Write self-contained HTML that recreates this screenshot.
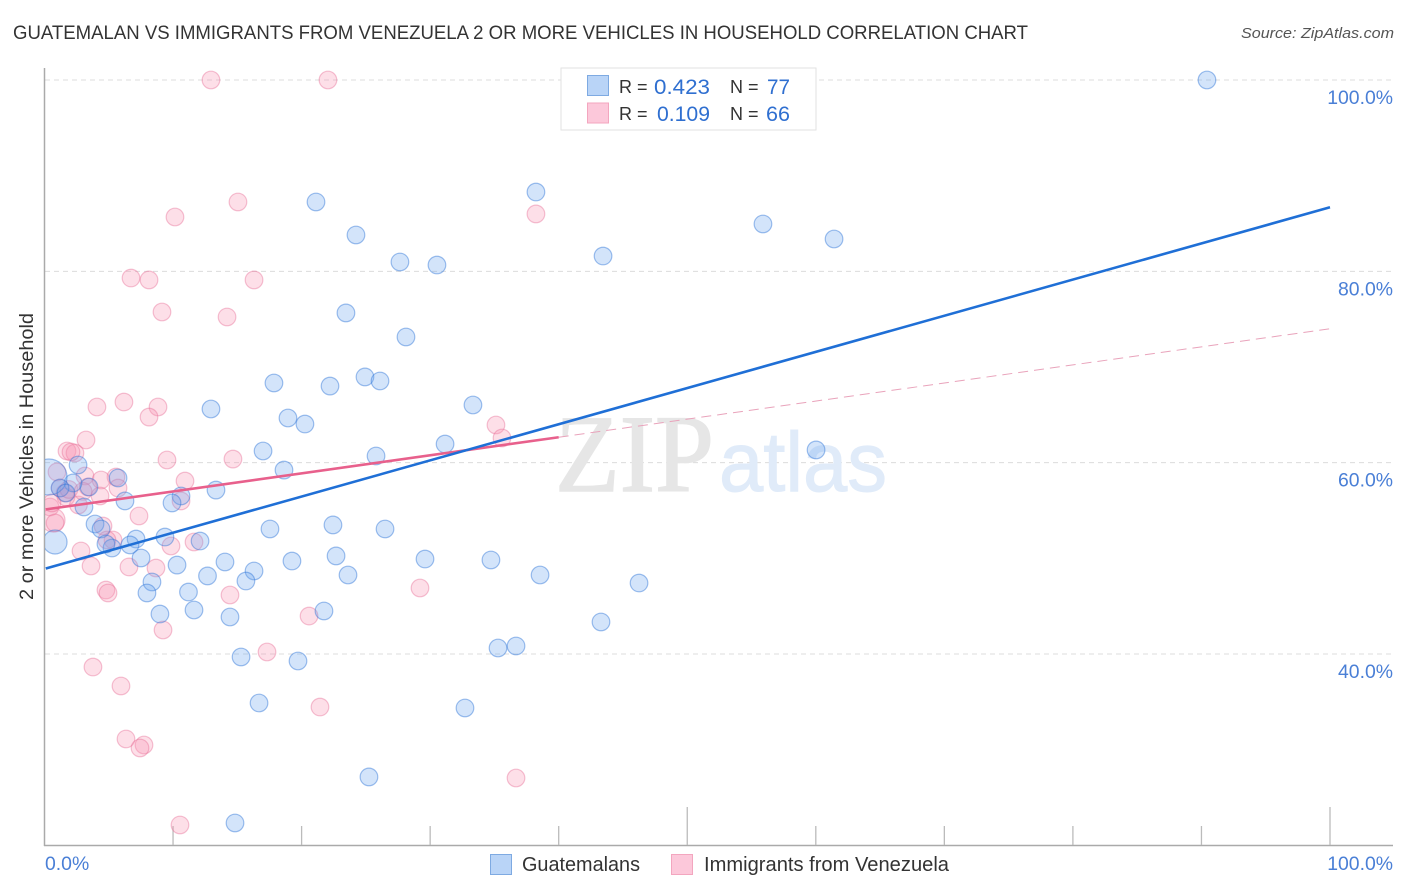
<!DOCTYPE html>
<html lang="en">
<head>
<meta charset="utf-8">
<title>Guatemalan vs Immigrants from Venezuela correlation chart</title>
<style>
html,body{margin:0;padding:0;background:#fff;}
body{width:1406px;height:892px;overflow:hidden;}
svg{display:block;font-family:"Liberation Sans",sans-serif;}
</style>
</head>
<body>
<svg id="chart" xmlns="http://www.w3.org/2000/svg" width="1406" height="892" viewBox="0 0 1406 892">
  <text x="13" y="39" font-size="19" fill="#333" textLength="1015" lengthAdjust="spacingAndGlyphs">GUATEMALAN VS IMMIGRANTS FROM VENEZUELA 2 OR MORE VEHICLES IN HOUSEHOLD CORRELATION CHART</text>
  <text x="1241" y="38" font-size="15" font-style="italic" fill="#555" textLength="153" lengthAdjust="spacingAndGlyphs">Source: ZipAtlas.com</text>
  <g id="grid"></g>
  <g>
    <text x="555" y="491" font-family="'Liberation Serif',serif" font-size="110" fill="#e6e6e6" stroke="#e6e6e6" stroke-width="1.5" textLength="159" lengthAdjust="spacingAndGlyphs">ZIP</text>
    <text x="719" y="491" font-size="84" fill="#e0ebf9" stroke="#e0ebf9" stroke-width="1" textLength="168" lengthAdjust="spacingAndGlyphs">atlas</text>
  </g>
  <g id="axes"></g>
  <g id="points-pink"></g>
  <g id="points-blue"></g>
  <g id="lines"></g>
  <text transform="translate(33,456.5) rotate(-90)" text-anchor="middle" font-size="19" fill="#333" textLength="287" lengthAdjust="spacingAndGlyphs">2 or more Vehicles in Household</text>
  <g>
    <rect x="561" y="68" width="255" height="62" fill="#fff" stroke="#e2e2e2" stroke-width="1"/>
    <rect x="587.5" y="75.5" width="21" height="20" fill="#b9d4f7" stroke="#7eaae2"/>
    <rect x="587.5" y="103" width="21" height="20" fill="#fcc8da" stroke="#f3a6bf"/>
    <text x="619" y="93" font-size="18" fill="#333">R =</text>
    <text x="654" y="94" font-size="21" fill="#2f6fd0" textLength="56" lengthAdjust="spacingAndGlyphs">0.423</text>
    <text x="730" y="93" font-size="18" fill="#333">N =</text>
    <text x="767" y="94" font-size="21" fill="#2f6fd0" textLength="23" lengthAdjust="spacingAndGlyphs">77</text>
    <text x="619" y="120" font-size="18" fill="#333">R =</text>
    <text x="657" y="121" font-size="21" fill="#2f6fd0" textLength="53" lengthAdjust="spacingAndGlyphs">0.109</text>
    <text x="730" y="120" font-size="18" fill="#333">N =</text>
    <text x="766" y="121" font-size="21" fill="#2f6fd0" textLength="24" lengthAdjust="spacingAndGlyphs">66</text>
  </g>
  <g>
    <rect x="490.5" y="854.5" width="21" height="20" fill="#b9d4f7" stroke="#7eaae2"/>
    <text x="522" y="871" font-size="20" fill="#333" textLength="118" lengthAdjust="spacingAndGlyphs">Guatemalans</text>
    <rect x="671.5" y="854.5" width="21" height="20" fill="#fcc8da" stroke="#f3a6bf"/>
    <text x="704" y="871" font-size="20" fill="#333" textLength="245" lengthAdjust="spacingAndGlyphs">Immigrants from Venezuela</text>
  </g>
</svg>
<script>
const guatemalanX = [90.43,38.23,21.12,55.89,24.23,61.42,43.45,27.65,30.53,23.45,28.12,24.93,26.1,17.85,22.21,33.33,12.95,18.94,20.26,31.16,17.0,25.79,60.02,18.63,2.61,13.34,10.62,9.92,6.26,3.07,5.72,3.46,2.22,1.21,0.35,0.82,3.93,4.4,17.54,22.44,26.49,9.37,7.12,12.1,6.65,5.25,4.78,22.68,29.6,34.73,19.25,7.51,10.31,14.04,16.3,12.68,23.61,38.55,15.67,8.36,46.25,7.97,11.2,21.74,11.63,8.98,14.43,43.29,35.28,36.68,15.29,19.72,16.69,32.71,25.24,14.82,1.67];
const guatemalanY = [100,88.29,87.25,84.95,83.8,83.38,81.6,80.98,80.66,75.65,73.14,68.96,68.54,68.33,68.01,66.03,65.61,64.67,64.04,61.95,61.22,60.7,61.33,59.23,59.76,57.14,56.52,55.79,56.0,55.37,58.4,57.46,57.88,57.35,58.5,51.71,53.59,53.07,53.07,53.49,53.07,52.23,52.02,51.81,51.4,51.08,51.5,50.25,49.93,49.83,49.72,50.04,49.3,49.62,48.68,48.16,48.26,48.26,47.63,47.53,47.42,46.38,46.48,44.5,44.6,44.18,43.87,43.35,40.63,40.84,39.69,39.27,34.88,34.36,27.15,22.34,56.83];
const venezuelaX = [12.95,22.05,38.23,10.15,15.05,6.73,8.13,16.3,9.14,14.2,6.18,4.08,8.83,8.13,35.12,35.59,3.23,1.75,2.37,2.06,14.66,9.53,0.97,5.56,3.15,10.93,4.4,5.72,3.38,4.32,1.59,1.21,1.67,10.62,0.43,0.66,0.82,0.58,2.64,7.35,4.55,5.33,4.86,9.84,11.63,2.84,3.62,6.57,8.67,4.78,4.94,14.43,29.21,9.22,20.58,17.31,3.77,5.95,21.43,6.34,7.74,7.43,36.68,10.54,1.9,3.0];
const venezuelaY = [100,100,86,85.68,87.25,79.3,79.1,79.1,75.75,75.23,66.34,65.82,65.82,64.77,63.94,62.58,62.37,61.22,61.01,61.12,60.38,60.28,59.03,58.5,58.61,58.08,58.19,57.35,57.46,56.52,56.83,57.35,56.41,56,55.37,54.01,53.7,55.79,55.58,54.43,53.38,51.92,51.92,51.29,51.71,50.77,49.2,49.1,48.99,46.69,46.38,46.17,46.9,42.51,43.97,40.21,38.64,36.66,34.46,31.12,30.49,30.18,27.04,22.13,57.2,57.0];
const guatemalanTrend = [48.9, 86.7];
const venezuelaTrend = [55.1, 74.0];
const venezuelaSolidEnd = 40;
const yTickValues = [100, 80, 60, 40];
const yTickLabels = ["100.0%", "80.0%", "60.0%", "40.0%"];
const xTickValues = [10, 20, 30, 40, 50, 60, 70, 80, 90, 100];
const xMajorTicks = [50, 100];
const xEndLabels = ["0.0%", "100.0%"];

const SVGNS = "http://www.w3.org/2000/svg";
const sx = v => 44.5 + v * 12.855;
const sy = v => 80 + (100 - v) * 9.567;
const add = (parent, tag, attrs) => {
  const el = document.createElementNS(SVGNS, tag);
  for (const k in attrs) el.setAttribute(k, attrs[k]);
  parent.appendChild(el);
  return el;
};
const grid = document.getElementById("grid");
const axes = document.getElementById("axes");

yTickValues.forEach((v, i) => {
  const line = add(grid, "line", {x1: 45, x2: 1393, y1: sy(v), y2: sy(v), stroke: "#dcdcdc", "stroke-width": 1, "stroke-dasharray": "5 4"});
  
  
  const label = add(axes, "text", {x: 1393, y: sy(v) + 24, "text-anchor": "end", "font-size": 19.4, fill: "#4a7fd6"});
  label.textContent = yTickLabels[i];
  
  
});

const yAxis = add(axes, "line", {x1: 44.5, x2: 44.5, y1: 68, y2: 846, stroke: "#aaa", "stroke-width": 1.5});


const xAxis = add(axes, "line", {x1: 44, x2: 1393, y1: 845.5, y2: 845.5, stroke: "#aaa", "stroke-width": 1.5});



xTickValues.forEach(v => {
  const top = xMajorTicks.includes(v) ? 807 : 826;
  const tick = add(axes, "line", {x1: sx(v), x2: sx(v), y1: top, y2: 845, stroke: "#bbb", "stroke-width": 1.3});
  
  
});

const xLabelLeft = add(axes, "text", {x: 45, y: 870, "font-size": 19.4, fill: "#4a7fd6"});
xLabelLeft.textContent = xEndLabels[0];


const xLabelRight = add(axes, "text", {x: 1393, y: 870, "text-anchor": "end", "font-size": 19.4, fill: "#4a7fd6"});
xLabelRight.textContent = xEndLabels[1];



/* clip region keeps the oversized points inside the plot area */
const defs = add(document.getElementById("chart"), "defs", {});
const clip = add(defs, "clipPath", {id: "plot-clip"});
add(clip, "rect", {x: 45, y: 60, width: 1360, height: 786});

const pointRadius = (series, i) => {
  if (series === "blue" && i === 34) return 18;
  if (series === "blue" && i === 35) return 12;
  if (series === "pink" && i === 35) return 12;
  return 8.8;
};

const pinkGroup = document.getElementById("points-pink");
pinkGroup.setAttribute("clip-path", "url(#plot-clip)");
venezuelaX.forEach((x, i) => {
  const c = add(pinkGroup, "circle", {cx: sx(x), cy: sy(venezuelaY[i]), r: pointRadius("pink", i), fill: "rgba(250,150,180,0.3)", stroke: "rgba(232,110,150,0.42)", "stroke-width": 1.2});
  
  
});

const blueGroup = document.getElementById("points-blue");
blueGroup.setAttribute("clip-path", "url(#plot-clip)");
guatemalanX.forEach((x, i) => {
  const c = add(blueGroup, "circle", {cx: sx(x), cy: sy(guatemalanY[i]), r: pointRadius("blue", i), fill: "rgba(110,165,240,0.3)", stroke: "rgba(45,115,215,0.45)", "stroke-width": 1.2});
  
  
});

const lines = document.getElementById("lines");
const trendAt = (t, x) => t[0] + (t[1] - t[0]) * x / 100;
const dashLine = add(lines, "line", {x1: sx(venezuelaSolidEnd), y1: sy(trendAt(venezuelaTrend, venezuelaSolidEnd)), x2: sx(100), y2: sy(trendAt(venezuelaTrend, 100)), stroke: "#e9a3bb", "stroke-width": 1, "stroke-dasharray": "10 6"});


const pinkLine = add(lines, "line", {x1: sx(0.1), y1: sy(trendAt(venezuelaTrend, 0.1)), x2: sx(venezuelaSolidEnd), y2: sy(trendAt(venezuelaTrend, venezuelaSolidEnd)), stroke: "#e8608c", "stroke-width": 2.6});


const blueLine = add(lines, "line", {x1: sx(0.1), y1: sy(trendAt(guatemalanTrend, 0.1)), x2: sx(100), y2: sy(trendAt(guatemalanTrend, 100)), stroke: "#1f6fd6", "stroke-width": 2.6});


</script>
</body>
</html>
